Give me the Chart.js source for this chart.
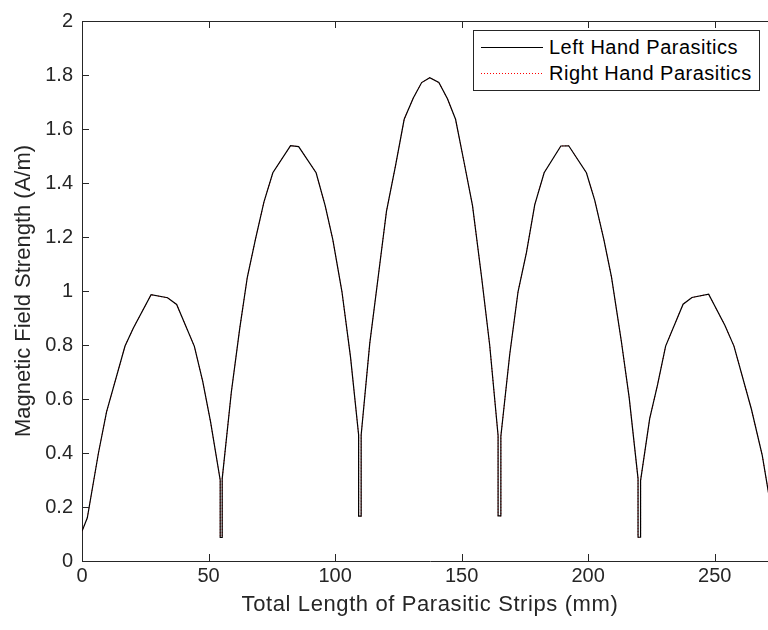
<!DOCTYPE html>
<html>
<head>
<meta charset="utf-8">
<script src="https://cdn.jsdelivr.net/npm/chart.js@4.4.1/dist/chart.umd.min.js"></script>
<style>
  html, body { margin: 0; padding: 0; background: #fff; overflow: hidden; width: 768px; height: 630px; }
  #wrap { position: relative; width: 790px; height: 630px; }
  #legend {
    position: absolute; left: 473px; top: 30px; width: 287px; height: 61px;
    border: 1px solid #262626; background: #fff; box-sizing: border-box;
    font-family: "Liberation Sans", Arial, Helvetica, sans-serif; font-size: 20px; color: #000;
    letter-spacing: 0.5px;
  }
  .row { position: absolute; left: 0; height: 24px; display: flex; align-items: center; white-space: nowrap; }
  .sample { width: 62px; margin-left: 7px; margin-right: 6px; height: 3px; display: block; }
</style>
</head>
<body>
<div id="wrap">
  <canvas id="c" width="790" height="630"></canvas>
  <div id="legend">
    <div class="row" style="top:4px"><svg class="sample" width="62" height="3"><line x1="0" y1="1.5" x2="62" y2="1.5" stroke="#000" stroke-width="1"/></svg><span id="lg0"></span></div>
    <div class="row" style="top:30px"><svg class="sample" width="62" height="3"><line x1="0" y1="1.5" x2="62" y2="1.5" stroke="#ff0000" stroke-width="1" stroke-dasharray="1 2"/></svg><span id="lg1"></span></div>
  </div>
</div>
<script>
// ---- data ----
const xTitle = "Total Length of Parasitic Strips (mm)";
const yTitle = "Magnetic Field Strength (A/m)";
const seriesNames = ["Left Hand Parasitics", "Right Hand Parasitics"];

// strip length (mm)
const lengthMm = [
  0, 2.1, 6.5, 9.7, 17.0, 20.3, 27.3, 33.8, 37.4, 44.4, 47.7, 50.8, 54.6, 54.6, 55.4,
  55.4, 59.0, 62.3, 65.3, 68.5, 71.9, 75.4, 82.4, 85.6, 92.5, 96.1, 99.1, 102.7, 106.1, 109.3, 109.3, 110.3,
  110.3, 113.7, 117.0, 120.3, 123.9, 127.3, 130.9, 134.2, 137.4, 141.0, 144.4, 147.6, 151.0, 154.3, 157.9, 161.1, 164.4, 164.4, 165.5,
  165.5, 169.0, 172.3, 175.6, 178.9, 182.6, 189.2, 192.3, 199.3, 202.6, 206.2, 209.2, 213.1, 216.2, 219.7, 219.7, 220.7,
  220.7, 224.3, 227.4, 230.6, 237.5, 241.0, 247.6, 254.0, 257.6, 264.5, 268.8, 272.9, 275.0
];
// left hand parasitics field strength (A/m)
const leftHand = [
  0.11, 0.16, 0.40, 0.552, 0.796, 0.863, 0.986, 0.975, 0.950, 0.795, 0.665, 0.515, 0.300, 0.087, 0.087,
  0.305, 0.625, 0.860, 1.050, 1.190, 1.330, 1.438, 1.538, 1.535, 1.438, 1.315, 1.190, 0.998, 0.755, 0.467, 0.166, 0.166,
  0.467, 0.806, 1.050, 1.295, 1.465, 1.636, 1.715, 1.772, 1.790, 1.772, 1.712, 1.636, 1.475, 1.316, 1.050, 0.798, 0.465, 0.167, 0.167,
  0.462, 0.765, 0.998, 1.142, 1.320, 1.438, 1.537, 1.538, 1.438, 1.336, 1.190, 1.052, 0.814, 0.605, 0.305, 0.088, 0.088,
  0.298, 0.527, 0.652, 0.796, 0.951, 0.976, 0.988, 0.873, 0.796, 0.562, 0.39, 0.16, 0.11
];
// right hand parasitics field strength (A/m) - overlaps the left hand curve in the picture
const rightHand = [
  0.11, 0.16, 0.40, 0.552, 0.796, 0.863, 0.986, 0.975, 0.950, 0.795, 0.665, 0.515, 0.300, 0.087, 0.087,
  0.305, 0.625, 0.860, 1.050, 1.190, 1.330, 1.438, 1.538, 1.535, 1.438, 1.315, 1.190, 0.998, 0.755, 0.467, 0.166, 0.166,
  0.467, 0.806, 1.050, 1.295, 1.465, 1.636, 1.715, 1.772, 1.790, 1.772, 1.712, 1.636, 1.475, 1.316, 1.050, 0.798, 0.465, 0.167, 0.167,
  0.462, 0.765, 0.998, 1.142, 1.320, 1.438, 1.537, 1.538, 1.438, 1.336, 1.190, 1.052, 0.814, 0.605, 0.305, 0.088, 0.088,
  0.298, 0.527, 0.652, 0.796, 0.951, 0.976, 0.988, 0.873, 0.796, 0.562, 0.39, 0.16, 0.11
];
// axis ranges / ticks
const xRange = [0, 275];
const xStep = 50;
const yRange = [0, 2];
const yStep = 0.2;

document.getElementById('lg0').textContent = seriesNames[0];
document.getElementById('lg1').textContent = seriesNames[1];

// ---- build chart ----
const toPoints = ys => lengthMm.map((x, i) => ({ x: x, y: ys[i] }));
const FONT = '"Liberation Sans", Arial, Helvetica, sans-serif';
const AX = '#262626';

const axesDecor = {
  id: 'axesDecor',
  afterDraw(chart) {
    const { ctx, chartArea: ca, scales } = chart;
    const L = 7;
    ctx.save();
    ctx.strokeStyle = AX;
    ctx.lineWidth = 1;
    ctx.beginPath();
    ctx.moveTo(ca.left, Math.round(ca.top) + 0.5);
    ctx.lineTo(ca.right, Math.round(ca.top) + 0.5);
    scales.x.ticks.forEach(t => {
      const px = Math.round(scales.x.getPixelForValue(t.value)) + 0.5;
      ctx.moveTo(px, ca.bottom); ctx.lineTo(px, ca.bottom - L);
      ctx.moveTo(px, ca.top); ctx.lineTo(px, ca.top + L);
    });
    scales.y.ticks.forEach(t => {
      const py = Math.round(scales.y.getPixelForValue(t.value)) + 0.5;
      ctx.moveTo(ca.left, py); ctx.lineTo(ca.left + L, py);
      ctx.moveTo(ca.right, py); ctx.lineTo(ca.right - L, py);
    });
    ctx.stroke();
    // x axis title (slightly spaced like the reference rendering)
    ctx.fillStyle = AX;
    ctx.font = '22px ' + FONT;
    if ('letterSpacing' in ctx) ctx.letterSpacing = '0.6px';
    ctx.textAlign = 'center';
    ctx.textBaseline = 'middle';
    ctx.fillText(xTitle, (scales.x.left + scales.x.right) / 2, 605);
    ctx.restore();
  }
};

new Chart(document.getElementById('c'), {
  type: 'scatter',
  data: {
    datasets: [
      { label: seriesNames[0], data: toPoints(leftHand), showLine: true, borderColor: '#000000', borderWidth: 1.2, pointRadius: 0, tension: 0 },
      { label: seriesNames[1], data: toPoints(rightHand), showLine: true, borderColor: '#ff0000', borderWidth: 1, borderDash: [1, 2], pointRadius: 0, tension: 0 }
    ]
  },
  options: {
    responsive: false,
    animation: false,
    devicePixelRatio: 1,
    layout: { padding: { top: 13, right: 12, left: 0, bottom: 0 } },
    plugins: { legend: { display: false }, tooltip: { enabled: false } },
    scales: {
      x: {
        type: 'linear', min: xRange[0], max: xRange[1],
        afterFit: s => { s.height = 69; },
        grid: { display: false, drawTicks: false },
        border: { display: true, color: AX, width: 1 },
        ticks: { stepSize: xStep, includeBounds: false, color: AX, padding: 3, maxRotation: 0,
                 font: { family: FONT, size: 20 } },
        title: { display: false }
      },
      y: {
        type: 'linear', min: yRange[0], max: yRange[1],
        afterFit: s => { s.width = 82; },
        grid: { display: false, drawTicks: false },
        border: { display: true, color: AX, width: 1 },
        ticks: { stepSize: yStep, includeBounds: false, color: AX, padding: 9,
                 font: { family: FONT, size: 20 },
                 callback: v => String(+v.toFixed(1)) },
        title: { display: true, text: yTitle, color: AX, font: { family: FONT, size: 22 }, padding: { top: 11, bottom: 0 } }
      }
    }
  },
  plugins: [axesDecor]
});
</script>
</body>
</html>
